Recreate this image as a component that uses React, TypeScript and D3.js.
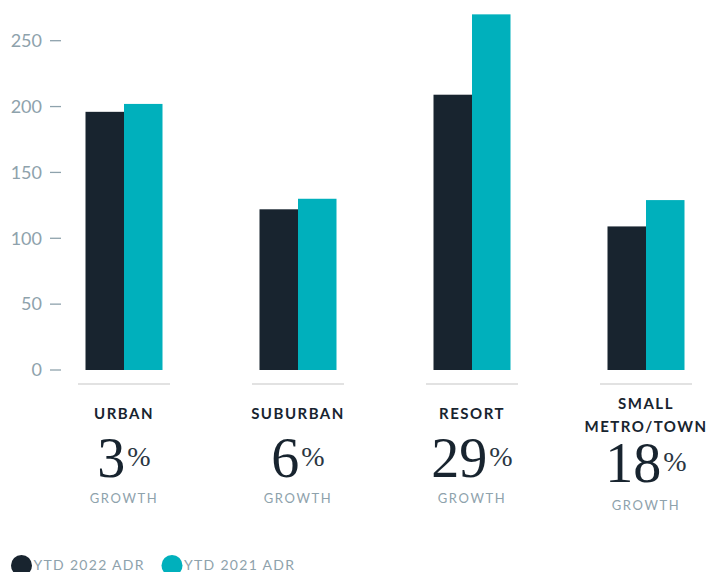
import React from "react";
import * as d3 from "d3";

const categories = ["URBAN", "SUBURBAN", "RESORT", "SMALL METRO/TOWN"];
const categoryLines = [["URBAN"], ["SUBURBAN"], ["RESORT"], ["SMALL", "METRO/TOWN"]];
const series = ["YTD 2022 ADR", "YTD 2021 ADR"];
const adr2022 = [196, 122, 209, 109];
const adr2021 = [202, 130, 270, 129];
const growth = ["3", "6", "29", "18"];
const yTicks = [0, 50, 100, 150, 200, 250];

const W = 721;
const H = 572;
const DARK = "#18242f";
const TEAL = "#00b0bc";
const GRAY = "#8ea2ac";
const SANS = "Lato, 'Open Sans', sans-serif";
const SERIF = "'Liberation Serif', 'DejaVu Serif', serif";

export default function App() {
  const y = d3.scaleLinear().domain([0, 250]).range([370, 40.7]);
  const x = d3.scalePoint<string>().domain(categories).range([124, 646]);
  const inner = d3.scaleBand<string>().domain(series).range([-38.5, 38.5]);
  const colors = d3.scaleOrdinal<string, string>().domain(series).range([DARK, TEAL]);
  const values = [adr2022, adr2021];

  return (
    <svg width={W} height={H} style={{ position: "absolute", left: 0, top: 0 }}>
      <rect width={W} height={H} fill="#fff" />
      {/* y axis */}
      {yTicks.map((t) => (
        <g key={t} transform={`translate(0,${y(t)})`}>
          <text x={42} dy="0.35em" textAnchor="end" fontFamily={SANS} fontSize={18} fill={GRAY}>
            {t}
          </text>
          <line x1={50} x2={61} stroke={GRAY} strokeWidth={1.3} />
        </g>
      ))}
      {/* bars */}
      {categories.map((c, i) => (
        <g key={c} transform={`translate(${x(c)},0)`}>
          {series.map((s, j) => (
            <rect
              key={s}
              x={inner(s)}
              width={inner.bandwidth()}
              y={y(values[j][i])}
              height={y(0) - y(values[j][i])}
              fill={colors(s)}
            />
          ))}
          <line x1={-46} x2={46} y1={384} y2={384} stroke="#e2e2e2" strokeWidth={2} />
          {categoryLines[i].map((l, k) => (
            <text
              key={l}
              x={0}
              y={categoryLines[i].length === 1 ? 419 : 409 + k * 23}
              textAnchor="middle"
              fontFamily={SANS}
              fontWeight={700}
              fontSize={15}
              letterSpacing={1.5}
              fill={DARK}
            >
              {l}
            </text>
          ))}
          <text
            x={0}
            y={categoryLines[i].length === 1 ? 477 : 482}
            textAnchor="middle"
            fontFamily={SERIF}
            fill={DARK}
          >
            <tspan fontSize={56}>{growth[i]}</tspan>
            <tspan fontSize={28} dy={-11} dx={2} fontWeight={300} fill="#2a3642">%</tspan>
          </text>
          <text
            x={0}
            y={categoryLines[i].length === 1 ? 503 : 510}
            textAnchor="middle"
            fontFamily={SANS}
            fontSize={13}
            letterSpacing={1.6}
            fill={GRAY}
          >
            GROWTH
          </text>
        </g>
      ))}
      {/* legend */}
      {series.map((s, j) => (
        <g key={s} transform={`translate(${j === 0 ? 21.5 : 172},565.5)`}>
          <circle r={10.5} fill={colors(s)} />
          <text x={12} y={4} fontFamily={SANS} fontSize={14} letterSpacing={1.3} fill={GRAY}>
            {s}
          </text>
        </g>
      ))}
    </svg>
  );
}
